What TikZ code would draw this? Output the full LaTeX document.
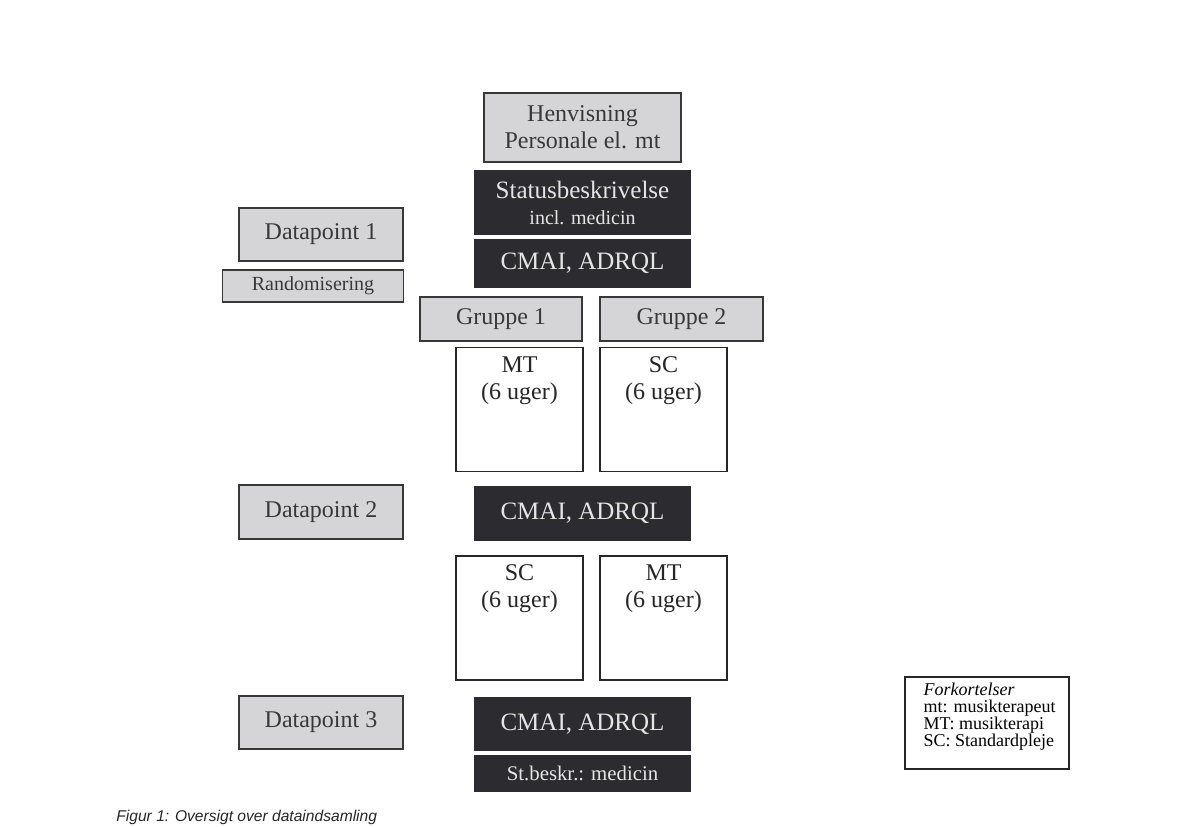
\documentclass[tikz,border=0pt]{standalone}
\usepackage{fontspec}
\setmainfont{Liberation Serif}
\setsansfont{Liberation Sans}
\usetikzlibrary{positioning}
\definecolor{boxgray}{HTML}{D5D5D8}
\definecolor{boxdark}{HTML}{2C2C30}
\definecolor{textgray}{HTML}{383838}

\begin{document}
\begin{tikzpicture}[x=0.5pt,y=-0.5pt]
\tikzstyle{graybox}=[draw=textgray,line width=0.6pt,fill=boxgray,text=textgray,
inner sep=0pt,align=center,font=\fontsize{12}{13.5}\selectfont]
\tikzstyle{darkbox}=[fill=boxdark,text=white!90!black,inner sep=0pt,
align=center,minimum width=108.5pt,font=\fontsize{12.5}{14}\selectfont]
\tikzstyle{weekbox}=[draw=black!85,line width=0.6pt,fill=white,
minimum width=63.5pt,minimum height=62pt,inner sep=0pt]
\tikzstyle{weektext}=[inner sep=0pt,align=center,text=black!85,
font=\fontsize{12}{13.5}\selectfont]

\useasboundingbox (0,0) rectangle (1193,826);

% centre column
\node[graybox,minimum width=98.5pt,minimum height=34.5pt] at (582.5,127.5) (henv) {Henvisning\\Personale el. mt};
\node[darkbox,minimum height=32.5pt] at (582.5,202.5) (status) {Statusbeskrivelse\\[-1pt]{\fontsize{10}{12}\selectfont incl. medicin}};
\node[darkbox,minimum height=24.5pt] at (582.5,263.5) (cmai1) {CMAI, ADRQL};
\node[graybox,minimum width=81pt,minimum height=22pt] at (501,319) (grp1) {Gruppe 1};
\node[graybox,minimum width=81.5pt,minimum height=22pt] at (681.5,319) (grp2) {Gruppe 2};

\node[weekbox] at (519.5,409.5) (mt1) {};
\node[weektext,below=4.5pt of mt1.north] (mt1t) {MT\\(6 uger)};
\node[weekbox] at (663.5,409.5) (sc1) {};
\node[weektext,below=4.5pt of sc1.north] (sc1t) {SC\\(6 uger)};

\node[darkbox,minimum height=27.5pt] at (582.5,513) (cmai2) {CMAI, ADRQL};

\node[weekbox] at (519.5,618) (sc2) {};
\node[weektext,below=4.5pt of sc2.north] (sc2t) {SC\\(6 uger)};
\node[weekbox] at (663.5,618) (mt2) {};
\node[weektext,below=4.5pt of mt2.north] (mt2t) {MT\\(6 uger)};

\node[darkbox,minimum height=27pt] at (582.5,724) (cmai3) {CMAI, ADRQL};
\node[darkbox,minimum height=18.5pt,font=\fontsize{10.4}{12}\selectfont] at (582.5,773.5) (stbeskr) {St.beskr.: medicin};

% left column
\node[graybox,minimum width=82pt,minimum height=26.5pt] at (321,234.5) (dp1) {Datapoint 1};
\node[graybox,minimum width=90.5pt,minimum height=16pt,font=\fontsize{10}{12}\selectfont] at (313,286) (rand) {Randomisering};
\node[graybox,minimum width=82pt,minimum height=27pt] at (321,512) (dp2) {Datapoint 2};
\node[graybox,minimum width=82pt,minimum height=26.5pt] at (321,722.5) (dp3) {Datapoint 3};

% abbreviations
\node[draw=black!85,line width=0.6pt,minimum width=82pt,minimum height=46pt] at (987,723) (abbr) {};
\node[inner sep=0pt,align=left,font=\fontsize{9}{8.6}\selectfont] at (989.5,716.5) (abbrtxt)
{\textit{Forkortelser}\\mt: musikterapeut\\MT: musikterapi\\SC: Standardpleje};

\node[anchor=base west,inner sep=0pt,text=black!85,font=\sffamily\itshape\fontsize{7.8}{9}\selectfont] at (116,821) (caption) {Figur 1: Oversigt over dataindsamling};

\end{tikzpicture}
\end{document}
